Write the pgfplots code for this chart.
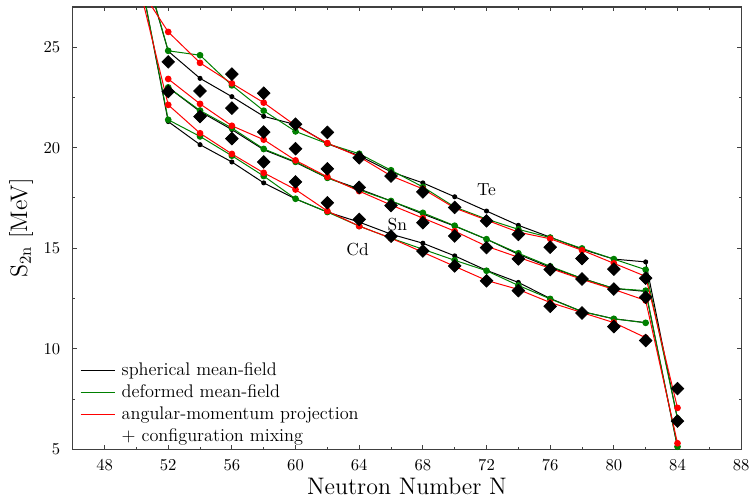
\documentclass[border=0pt]{standalone}
\usepackage{pgfplots}
\pgfplotsset{compat=1.18}
\usepackage{pgfplotstable}
\definecolor{dgreen}{RGB}{0,128,0}

\pgfplotstableread{
N bl gr rd
50 30.3 30.4 28.2
52 24.8 24.82 25.76
54 23.45 24.6 24.22
56 22.54 23.1 23.2
58 21.56 21.84 22.24
60 21.15 20.81 21.1
62 20.2 20.2 20.23
64 19.6 19.70 19.55
66 18.8 18.88 18.6
68 18.25 18.05 17.95
70 17.56 17.05 17.0
72 16.85 16.45 16.4
74 16.14 15.94 15.8
76 15.55 15.53 15.47
78 14.95 14.99 14.9
80 14.46 14.46 14.25
82 14.32 13.93 13.6
84 6.5 6.53 7.06
}\te

\pgfplotstableread{
N bl gr rd
52 23.0 23.0 23.42
54 21.8 21.85 22.18
56 20.9 20.98 21.09
58 19.9 19.94 20.4
60 19.27 19.3 19.37
62 18.5 18.5 18.55
64 17.95 17.9 17.84
66 17.35 17.35 17.15
68 16.7 16.76 16.5
70 16.1 16.12 15.85
72 15.45 15.45 15.1
74 14.7 14.75 14.55
76 14.05 14.1 14.0
78 13.5 13.5 13.45
80 13.0 13.0 12.95
82 12.85 12.89 12.4
84 5.1 5.13 5.3
}\sn

\pgfplotstableread{
N bl gr rd
50 29.5 29.5 28.6
52 21.3 21.39 22.13
54 20.15 20.56 20.72
56 19.29 19.6 19.69
58 18.25 18.59 18.75
60 17.45 17.46 17.92
62 16.8 16.8 16.85
64 16.3 16.1 16.1
66 15.7 15.5 15.5
68 15.25 14.95 14.8
70 14.62 14.4 14.1
72 13.9 13.88 13.4
74 13.3 13.15 12.95
76 12.5 12.48 12.3
78 11.85 11.85 11.8
80 11.49 11.49 11.3
82 11.3 11.29 10.55
}\cd

\pgfplotstableread{
N S
52 24.27
52 22.79
54 22.82
54 21.55
56 23.66
56 21.97
56 20.45
58 22.71
58 20.78
58 19.29
60 21.17
60 19.95
60 18.3
62 20.76
62 18.95
62 17.26
64 19.5
64 18.03
64 16.43
66 18.59
66 17.12
66 15.6
68 17.8
68 16.27
68 14.86
70 17.03
70 15.61
70 14.12
72 16.36
72 15.03
72 13.38
74 15.69
74 14.47
74 12.89
76 15.05
76 13.94
76 12.11
78 14.49
78 13.47
78 11.78
80 13.96
80 12.97
80 11.1
82 13.51
82 12.56
82 10.41
84 8.02
84 6.4
}\exper

\begin{document}
\begin{tikzpicture}
\begin{axis}[
  scale only axis, width=402.6pt, height=266.4pt,
  xmin=46, xmax=88, ymin=5, ymax=27,
  xtick={48,52,...,88}, ytick={5,10,...,25},
  minor x tick num=1, minor y tick num=1,
  tick align=inside, major tick length=2.5pt, minor tick length=1.6pt,
  axis line style={draw=black!75, line width=0.8pt},
  every tick/.style={black!75, line width=0.6pt},
  xlabel={Neutron Number N},
  ylabel={S$_{\mathrm{2n}}$ [MeV]},
  label style={font=\Large},
  xlabel style={at={(axis description cs:0.5,-0.083)}, anchor=center},
  ylabel style={at={(axis description cs:-0.077,0.5)}, anchor=center},
  xticklabel style={yshift=-3pt},
  yticklabel style={xshift=-4pt},
  legend style={draw=none, fill=none, at={(axis description cs:0.008,0.0)},
    anchor=south west, font=\fontsize{11}{13}\selectfont, row sep=0pt,
    column sep=2pt, inner sep=1pt},
  legend cell align=left,
  legend image code/.code={\draw[#1, mark=none] (0cm,0cm) -- (0.72cm,0cm);},
]
\coordinate (sw) at (rel axis cs:0,0);
% spherical (black)
\addplot[black, line width=0.6pt, mark=*, mark size=1.2pt] table[x=N,y=bl]{\te};
\addlegendentry{spherical mean-field}
\addplot[black, line width=0.6pt, mark=*, mark size=1.2pt, forget plot] table[x=N,y=bl]{\sn};
\addplot[black, line width=0.6pt, mark=*, mark size=1.2pt, forget plot] table[x=N,y=bl]{\cd};
% deformed (green)
\addplot[dgreen, line width=0.6pt, mark=*, mark size=1.7pt] table[x=N,y=gr]{\te};
\addlegendentry{deformed mean-field}
\addplot[dgreen, line width=0.6pt, mark=*, mark size=1.7pt, forget plot] table[x=N,y=gr]{\sn};
\addplot[dgreen, line width=0.6pt, mark=*, mark size=1.7pt, forget plot] table[x=N,y=gr]{\cd};
% projected (red)
\addplot[red, line width=0.6pt, mark=*, mark size=1.7pt] table[x=N,y=rd]{\te};
\addlegendentry{angular-momentum projection}
\addplot[red, line width=0.6pt, mark=*, mark size=1.7pt, forget plot] table[x=N,y=rd]{\sn};
\addplot[red, line width=0.6pt, mark=*, mark size=1.7pt, forget plot] table[x=N,y=rd]{\cd};
% experiment
\addplot[only marks, black, mark=square*, mark size=2.7pt, mark options={rotate=45}, forget plot] table[x=N,y=S]{\exper};

\addlegendimage{empty legend}
\addlegendentry{+ configuration mixing}

\node[font=\fontsize{10.5}{12.6}\selectfont] at (axis cs:72,17.92) {Te};
\node[font=\fontsize{10.5}{12.6}\selectfont] at (axis cs:66.4,16.19) {Sn};
\node[font=\fontsize{10.5}{12.6}\selectfont] at (axis cs:63.9,14.95) {Cd};
\end{axis}
\path (sw) ++(-43.8pt,-31.8pt) rectangle ++(453pt,302.4pt);
\end{tikzpicture}
\end{document}
